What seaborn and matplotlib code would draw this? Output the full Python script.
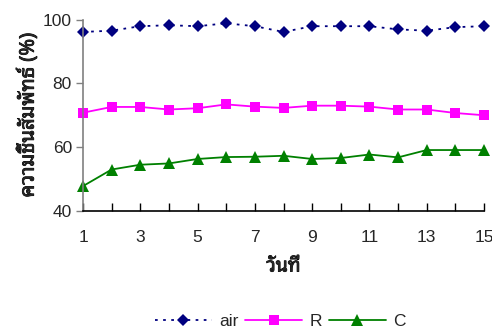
import matplotlib
matplotlib.use("Agg")
import matplotlib.pyplot as plt
import matplotlib.patheffects as pe
import seaborn as sns
import pandas as pd

days = list(range(1, 16))
air = [96.1, 96.5, 97.9, 98.2, 97.9, 98.8, 97.9, 96.1, 97.9, 97.9, 97.9, 96.9, 96.5, 97.6, 97.9]
r_vals = [70.8, 72.6, 72.6, 71.8, 72.2, 73.4, 72.7, 72.3, 73.0, 73.0, 72.7, 71.8, 71.8, 70.7, 70.0]
c_vals = [47.8, 53.0, 54.5, 54.9, 56.3, 56.9, 57.0, 57.3, 56.3, 56.6, 57.7, 56.8, 59.1, 59.1, 59.1]
series_names = ["air", "R", "C"]
xlabel = "วันที่"
ylabel = "ความชื้นสัมพัทธ์ (%)"
yticks = [40, 60, 80, 100]
xticklabels_at = [1, 3, 5, 7, 9, 11, 13, 15]

sns.set_theme(style="white")
plt.rcParams['font.family'] = ['Liberation Sans', 'Noto Sans Thai Looped', 'DejaVu Sans']

df = pd.DataFrame({"day": days * 3,
                   "value": air + r_vals + c_vals,
                   "series": sum([[n] * len(days) for n in series_names], [])})

fig = plt.figure(figsize=(4.92, 3.29), dpi=100)
ax = fig.add_axes([83/492, 1 - 211/329, (484-83)/492, (211-19.5)/329])

styles = {
    "air": dict(color='#000080', marker='D', ls=(0, (1.5, 3)), ms=6.5),
    "R": dict(color='#ff00ff', marker='s', ls='-', ms=7),
    "C": dict(color='#008000', marker='^', ls='-', ms=8),
}
for name in series_names:
    st = styles[name]
    sns.lineplot(data=df[df.series == name], x="day", y="value", ax=ax, color=st['color'],
                 marker=st['marker'], markersize=st['ms'], markeredgewidth=0,
                 linestyle=st['ls'], linewidth=1.3, label=name, clip_on=False)

ax.set_xlim(1, 15)
ax.set_ylim(40, 100)
ax.set_yticks(yticks)
ax.set_xticks(days)
ax.set_xticklabels([str(d) if d in xticklabels_at else "" for d in days])
ax.tick_params(axis='y', direction='out', length=5, width=1, color='#808080', labelsize=12.5, pad=3, left=True)
ax.tick_params(axis='x', direction='in', length=6, width=1, color='black', labelsize=12.5, pad=14, bottom=True)
for s in ['top', 'right']:
    ax.spines[s].set_visible(False)
ax.spines['left'].set_color('#808080')
ax.spines['left'].set_linewidth(1.2)
ax.spines['bottom'].set_color('black')
ax.spines['bottom'].set_linewidth(1.2)

bold = [pe.withStroke(linewidth=0.6, foreground='black')]
ax.set_xlabel(xlabel, fontsize=14, fontweight='bold', labelpad=8,
              family=['Noto Sans Thai Looped', 'Liberation Sans'], path_effects=bold)
ax.set_ylabel(ylabel, fontsize=14.5, fontweight='bold', labelpad=3,
              family=['Noto Sans Thai Looped', 'Liberation Sans'], path_effects=bold)

leg = ax.legend(loc='center', bbox_to_anchor=(280/492, 1 - 321/329), bbox_transform=fig.transFigure,
                ncol=3, frameon=False, fontsize=12.5, handlelength=3.3, handletextpad=0.4,
                columnspacing=0.4, borderpad=0)
fig.savefig("out.png", dpi=100)
